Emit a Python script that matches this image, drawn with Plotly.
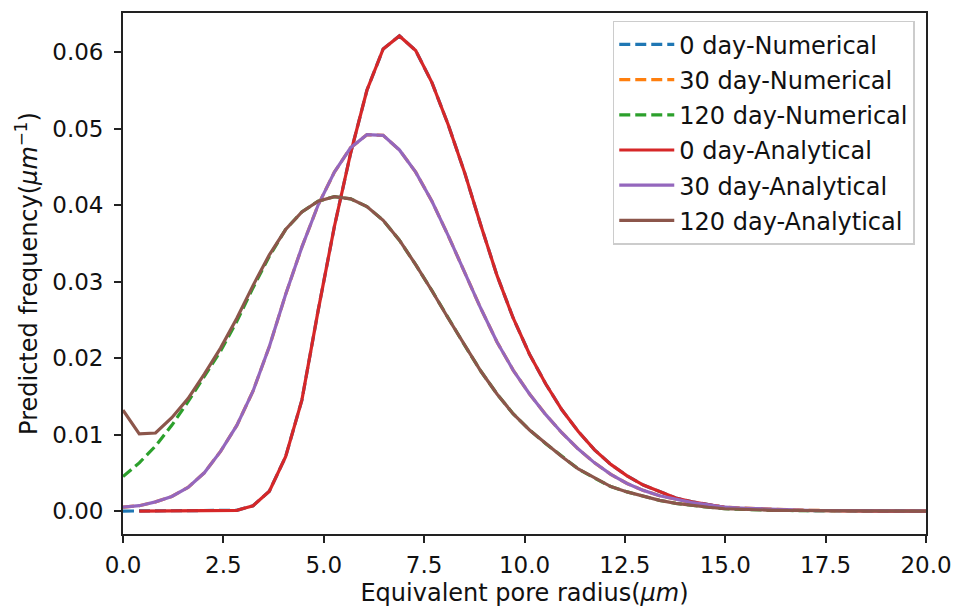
import plotly.graph_objects as go

# Grid of equivalent pore radius (um)
radius = [0.0, 0.405, 0.81, 1.215, 1.62, 2.025, 2.43, 2.835, 3.24, 3.645,
          4.05, 4.455, 4.86, 5.265, 5.67, 6.075, 6.48, 6.885, 7.29, 7.695,
          8.1, 8.505, 8.91, 9.315, 9.72, 10.125, 10.53, 10.935, 11.34, 11.745,
          12.15, 12.555, 12.96, 13.365, 13.77, 14.175, 14.58, 14.985, 15.39, 15.795,
          16.2, 16.605, 17.01, 17.415, 17.82, 18.225, 18.63, 19.035, 19.44, 19.845,
          20.25]

# Analytical solutions
day0_analytical = [None, 0.0, 0.0, 0.0, 0.0, 0.0, 0.0, 0.0001, 0.0007, 0.0026,
                   0.0071, 0.0145, 0.0262, 0.0372, 0.0468, 0.0550, 0.0604, 0.0621, 0.0602, 0.0560,
                   0.0505, 0.0443, 0.0374, 0.0308, 0.0252, 0.0205, 0.0166, 0.0132, 0.0104, 0.0080,
                   0.0061, 0.0046, 0.0034, 0.0025, 0.0017, 0.0012, 0.0008, 0.0005, 0.0003, 0.0002,
                   0.00015, 0.0001, 0.00007, 0.00004, 0.00003, 0.00002, 0.00001, 0.0, 0.0, 0.0,
                   0.0]
day30_analytical = [0.0005, 0.0007, 0.0012, 0.0019, 0.0031, 0.0050, 0.0078, 0.0112, 0.0157, 0.0215,
                    0.0283, 0.0345, 0.0400, 0.0443, 0.0475, 0.0492, 0.0491, 0.0472, 0.0443, 0.0405,
                    0.0360, 0.0313, 0.0265, 0.0221, 0.0184, 0.0153, 0.0126, 0.0102, 0.0081, 0.0063,
                    0.0048, 0.0036, 0.0027, 0.0020, 0.0015, 0.0011, 0.0008, 0.0005, 0.0004, 0.0003,
                    0.0002, 0.00015, 0.0001, 0.00007, 0.00005, 0.00003, 0.00002, 0.00001, 0.00001, 0.0,
                    0.0]
day120_analytical = [0.0132, 0.0101, 0.0102, 0.0122, 0.0147, 0.0179, 0.0213, 0.0252, 0.0295, 0.0335,
                     0.0368, 0.0391, 0.0405, 0.0411, 0.0408, 0.0398, 0.0380, 0.0354, 0.0322, 0.0288,
                     0.0252, 0.0217, 0.0183, 0.0153, 0.0127, 0.0106, 0.0088, 0.0071, 0.0055, 0.0043,
                     0.0032, 0.0025, 0.0019, 0.0014, 0.0010, 0.0007, 0.0005, 0.0003, 0.0002, 0.00015,
                     0.0001, 0.00007, 0.00005, 0.00003, 0.00002, 0.00001, 0.00001, 0.0, 0.0, 0.0,
                     0.0]

# Numerical solutions
day0_numerical = [0.0, 0.0, 0.0, 0.0, 0.0, 0.0, 0.0, 0.0001, 0.0007, 0.0026,
                  0.0071, 0.0145, 0.0262, 0.0372, 0.0468, 0.0550, 0.0604, 0.0621, 0.0602, 0.0560,
                  0.0505, 0.0443, 0.0374, 0.0308, 0.0252, 0.0205, 0.0166, 0.0132, 0.0104, 0.0080,
                  0.0061, 0.0046, 0.0034, 0.0025, 0.0017, 0.0012, 0.0008, 0.0005, 0.0003, 0.0002,
                  0.00015, 0.0001, 0.00007, 0.00004, 0.00003, 0.00002, 0.00001, 0.0, 0.0, 0.0,
                  0.0]
day30_numerical = [0.0005, 0.0007, 0.0012, 0.0019, 0.0031, 0.0050, 0.0078, 0.0112, 0.0157, 0.0215,
                   0.0283, 0.0345, 0.0400, 0.0443, 0.0475, 0.0492, 0.0491, 0.0472, 0.0443, 0.0405,
                   0.0360, 0.0313, 0.0265, 0.0221, 0.0184, 0.0153, 0.0126, 0.0102, 0.0081, 0.0063,
                   0.0048, 0.0036, 0.0027, 0.0020, 0.0015, 0.0011, 0.0008, 0.0005, 0.0004, 0.0003,
                   0.0002, 0.00015, 0.0001, 0.00007, 0.00005, 0.00003, 0.00002, 0.00001, 0.00001, 0.0,
                   0.0]
day120_numerical = [0.0045, 0.0063, 0.0085, 0.0112, 0.0143, 0.0176, 0.0209, 0.0248, 0.0292, 0.0333,
                    0.0368, 0.0391, 0.0405, 0.0411, 0.0408, 0.0398, 0.0380, 0.0354, 0.0322, 0.0288,
                    0.0252, 0.0217, 0.0183, 0.0153, 0.0127, 0.0106, 0.0088, 0.0071, 0.0055, 0.0043,
                    0.0032, 0.0025, 0.0019, 0.0014, 0.0010, 0.0007, 0.0005, 0.0003, 0.0002, 0.00015,
                    0.0001, 0.00007, 0.00005, 0.00003, 0.00002, 0.00001, 0.00001, 0.0, 0.0, 0.0,
                    0.0]

series = [
    ("0 day-Numerical", day0_numerical, "#1f77b4", "11px,5px"),
    ("30 day-Numerical", day30_numerical, "#ff7f0e", "11px,5px"),
    ("120 day-Numerical", day120_numerical, "#2ca02c", "11px,5px"),
    ("0 day-Analytical", day0_analytical, "#d62728", "solid"),
    ("30 day-Analytical", day30_analytical, "#9467bd", "solid"),
    ("120 day-Analytical", day120_analytical, "#8c564b", "solid"),
]

FONT = "DejaVu Sans"
fig = go.Figure()
for i, (name, ys, color, dash) in enumerate(series):
    fig.add_trace(go.Scatter(
        x=radius, y=ys, mode="lines", name=name, legendgroup=f"g{i}",
        line=dict(color=color, width=3.2, dash=dash),
        connectgaps=False,
    ))

axis_common = dict(
    showline=True, linecolor="#222222", linewidth=1.8, mirror=True,
    ticks="outside", ticklen=7, tickwidth=1.6, tickcolor="#222222",
    showgrid=False, zeroline=False, automargin=False,
    tickfont=dict(family=FONT, size=23, color="#111111"),
)

fig.update_layout(
    width=960, height=607,
    margin=dict(l=123, r=34, t=13, b=73),
    paper_bgcolor="white", plot_bgcolor="white",
    font=dict(family=FONT, size=24, color="#111111"),
    xaxis=dict(range=[0, 20], tickvals=[0, 2.5, 5, 7.5, 10, 12.5, 15, 17.5, 20],
               tickformat=".1f", ticklabelstandoff=2,
               title=dict(text="Equivalent pore radius(<i>μm</i>)", standoff=11,
                          font=dict(family=FONT, size=24)),
               **axis_common),
    yaxis=dict(range=[-0.003, 0.0651], tickvals=[0, 0.01, 0.02, 0.03, 0.04, 0.05, 0.06],
               tickformat=".2f", ticklabelstandoff=6,
               title=dict(text="Predicted frequency(<i>μm</i><sup>−1</sup>)", standoff=8,
                          font=dict(family=FONT, size=24)),
               **axis_common),
    legend=dict(
        x=0.986, y=0.985, xanchor="right", yanchor="top",
        bgcolor="rgba(255,255,255,0.8)", bordercolor="#cccccc", borderwidth=1.5,
        font=dict(family=FONT, size=24, color="#111111"),
        itemwidth=55, tracegroupgap=1, traceorder="grouped",
    ),
    showlegend=True,
)

fig.write_html("out.html")
